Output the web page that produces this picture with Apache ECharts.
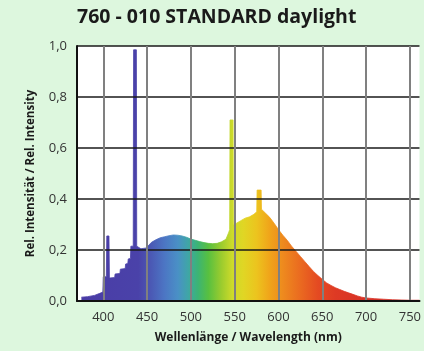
<!DOCTYPE html>
<html>
<head>
<meta charset="utf-8">
<script src="https://cdn.jsdelivr.net/npm/echarts@6/dist/echarts.min.js"></script>
<style>
html,body{margin:0;padding:0;background:#ddf7de;}
#c{width:424px;height:351px;}
</style>
</head>
<body>
<div id="c"></div>
<script>
// Wavelength (nm) and relative intensity
const wavelengths = [375,382,390,396,399.5,400,403.5,404,406.5,407,413,413.5,419,419.5,425,425.5,428,428.5,431,431.5,434.2,434.6,437.8,438.2,443,445,449,455,460,465,470,475,480,485,490,495,500,505,510,515,520,525,530,535,540,543,544.3,544.7,548.2,548.6,552,557,562,567,572,575.2,575.6,580.2,580.6,585,590,595,600,605,610,615,620,625,630,635,640,645,650,655,660,665,670,675,680,685,690,695,700,710,720,730,740,750,761];
const intensity   = [0.015,0.017,0.022,0.03,0.035,0.095,0.095,0.255,0.255,0.09,0.092,0.106,0.108,0.125,0.127,0.145,0.147,0.165,0.167,0.215,0.215,0.985,0.985,0.215,0.205,0.2,0.208,0.23,0.24,0.248,0.252,0.256,0.259,0.258,0.255,0.25,0.243,0.238,0.233,0.229,0.226,0.225,0.226,0.232,0.242,0.267,0.28,0.71,0.71,0.3,0.305,0.315,0.325,0.33,0.34,0.35,0.435,0.435,0.36,0.345,0.328,0.305,0.28,0.258,0.238,0.215,0.195,0.175,0.155,0.135,0.116,0.1,0.085,0.071,0.061,0.052,0.045,0.038,0.032,0.026,0.02,0.015,0.012,0.009,0.007,0.005,0.004,0.003,0.003];
const xTicks = [400,450,500,550,600,650,700,750];
const yTicks = [0,0.2,0.4,0.6,0.8,1.0];
const colorNm  = [375,440,455,470,485,497,508,520,535,548,560,575,590,605,625,645,665,700,761];
const colorHex = ['#4a3ca6','#4a42a9','#4b5ab5','#4c76c4','#4a90c6','#3fa6a6','#3cb474','#58c040','#9ccc2e','#cfdb2a','#e0d624','#ecc41e','#f0a41a','#ee8a1e','#ea6a20','#e44a22','#de3a24','#d83226','#d03228'];

const first = wavelengths[0], last = wavelengths[wavelengths.length-1];
const stops = colorNm.map((nm,i)=>({offset:(nm-first)/(last-first), color:colorHex[i]}));
const grad = () => new echarts.graphic.LinearGradient(0,0,1,0,stops);
const data = wavelengths.map((w,i)=>[w,intensity[i]]);

const chart = echarts.init(document.getElementById('c'), null, {renderer:'canvas'});
const fam = '"Open Sans", "DejaVu Sans", sans-serif';
chart.setOption({
  animation:false,
  backgroundColor:'#ddf7de',
  title:{text:'760 - 010 STANDARD daylight', left:72, top:2,
    textStyle:{fontFamily:fam, fontWeight:'bold', fontSize:19.5, color:'#1a1a1a'}},
  grid:{left:77, top:46, right:0, bottom:50, show:true, backgroundColor:'#ffffff', borderWidth:0},
  xAxis:{type:'value', min:370, max:761, z:5,
    name:'Wellenlänge / Wavelength (nm)', nameLocation:'middle', nameGap:31,
    nameTextStyle:{fontFamily:fam, fontWeight:'bold', fontSize:12, color:'#1a1a1a'},
    axisLine:{show:true, onZero:false, lineStyle:{color:'#111', width:2}},
    axisTick:{show:false, customValues:xTicks},
    axisLabel:{customValues:xTicks, margin:10, fontFamily:fam, fontSize:13, color:'#333'},
    splitLine:{show:true, lineStyle:{color:'#808080', width:2}}
  },
  yAxis:{type:'value', min:0, max:1, interval:0.2, z:5,
    name:'Rel. Intensität / Rel. Intensity', nameLocation:'middle', nameGap:40,
    nameTextStyle:{fontFamily:fam, fontWeight:'bold', fontSize:11.5, color:'#1a1a1a'},
    axisLine:{show:true, lineStyle:{color:'#111', width:2}},
    axisTick:{show:false},
    axisLabel:{margin:10, fontFamily:fam, fontSize:13, color:'#333',
      formatter:v=>v.toFixed(1).replace('.',',')},
    splitLine:{show:true, lineStyle:{color:'#1a1a1a', width:1.5}}
  },
  series:[{
    type:'line', data:data, symbol:'none', z:2,
    lineStyle:{width:0.8, color:grad()},
    areaStyle:{color:grad(), opacity:1}
  }]
});
</script>
</body>
</html>
